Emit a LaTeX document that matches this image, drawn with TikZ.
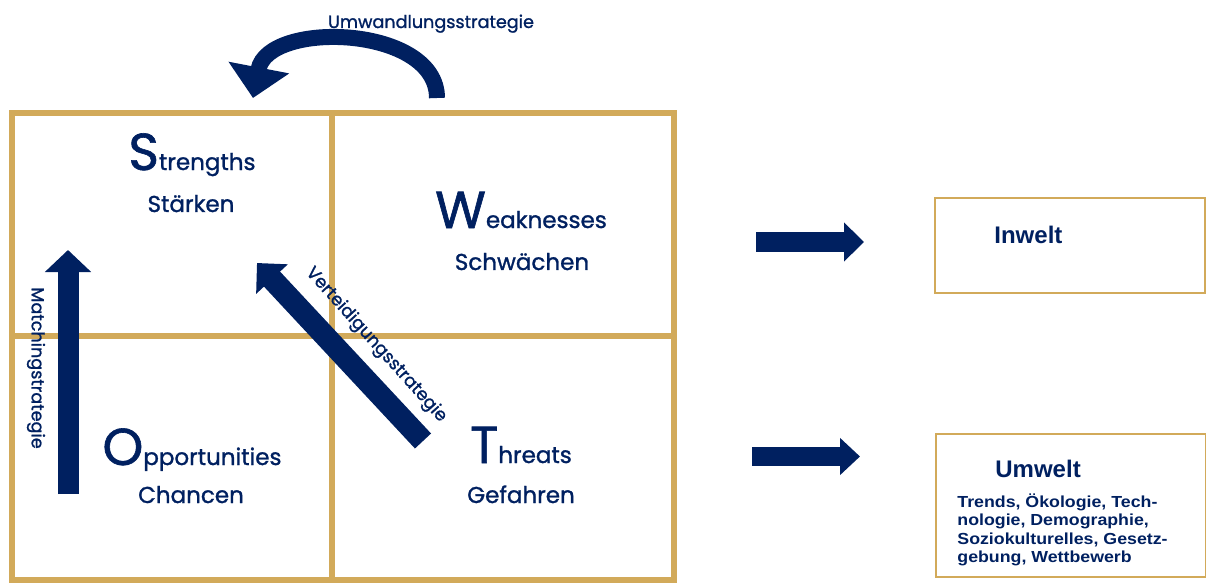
\documentclass[tikz,border=0pt]{standalone}
\usepackage{fontspec}
\setmainfont{Poppins}[FakeBold=1.2]
\newfontfamily\arialfont{Liberation Sans}
\newfontfamily\arialwide{Liberation Sans}[FakeStretch=1.11]
\usetikzlibrary{arrows.meta,positioning}
\definecolor{navy}{RGB}{0,32,96}
\definecolor{gold}{RGB}{210,170,90}
\newcommand{\bigletter}[1]{{\fontsize{26}{26}\selectfont #1}}

\begin{document}
\begin{tikzpicture}[x=0.5pt, y=-0.5pt,
  grid/.style = {draw=gold, line width=3pt},
  envbox/.style = {draw=gold, line width=1pt, minimum width=135pt},
  label/.style = {navy, anchor=base, font=\fontsize{11.5}{12}\selectfont},
  strat/.style = {navy, font=\fontsize{8.8}{10}\selectfont},
  blockarrow/.style = {navy, line width=9.5pt, -{Triangle[length=10pt,width=19pt]}}
]
\useasboundingbox (0,0) rectangle (1206,583);

% SWOT grid
\draw [grid] (12,113) rectangle (674,580);
\draw [grid] (332,113) -- (332,580);
\draw [grid] (12,336) -- (674,336);

\node [label] (s1) at (192,170) {\bigletter{S}trengths};
\node [label] (s2) at (191,212) {Stärken};
\node [label] (w1) at (521,228) {\bigletter{W}eaknesses};
\node [label] (w2) at (522,270) {Schwächen};
\node [label] (o1) at (192,465) {\bigletter{O}pportunities};
\node [label] (o2) at (191,503) {Chancen};
\node [label] (t1) at (521,463) {\bigletter{T}hreats};
\node [label] (t2) at (521,503) {Gefahren};

% strategies
\coordinate (m0) at (68,494);
\coordinate (m1) at (68,250);
\draw [blockarrow, line width=10.5pt, -{Triangle[length=11pt,width=22.5pt]}] (m0) -- (m1);
\node [strat, rotate=-90] (match) at (36,368) {Matchingstrategie};

\coordinate (v0) at (423,441);
\coordinate (v1) at (257,263);
\draw [blockarrow, line width=11pt, -{Triangle[length=11pt,width=21pt]}] (v0) -- (v1);
\node [strat, rotate=-48] (vert) at (376,345) {Verteidigungsstrategie};

\coordinate (u0) at (437,98);
\coordinate (u1) at (253,98);
\draw [navy, line width=8pt, -{Triangle[length=15.5pt,width=30pt]}]
  (u0) .. controls (437,25) and (268,20) .. (u1);
\node [strat, anchor=base] (umw) at (431,28) {Umwandlungsstrategie};

% Inwelt / Umwelt
\node [envbox, minimum height=47.5pt] (inwelt) at (1070,245.5) {};
\node [envbox, minimum height=71.5pt] (umwelt) at (1070.5,505.5) {};
\node [navy, anchor=base west, inner sep=0pt, font=\arialfont\bfseries\fontsize{12}{12}\selectfont] (inl) at (994,243) {Inwelt};
\node [navy, anchor=base west, inner sep=0pt, font=\arialfont\bfseries\fontsize{12}{12}\selectfont] (uml) at (995,477) {Umwelt};
\node [navy, anchor=north west, inner sep=0pt, align=left,
  font=\arialwide\bfseries\fontsize{8}{9.25}\selectfont] (umtext) at (957,493)
  {Trends, Ökologie, Tech-\\nologie, Demographie,\\Soziokulturelles, Gesetz-\\gebung, Wettbewerb};

\coordinate (a0) at (756,242);
\coordinate (a1) at (864,242);
\draw [blockarrow] (a0) -- (a1);
\coordinate (b0) at (752,456.5);
\coordinate (b1) at (860,456.5);
\draw [blockarrow, -{Triangle[length=10pt,width=18pt]}] (b0) -- (b1);
\end{tikzpicture}
\end{document}
